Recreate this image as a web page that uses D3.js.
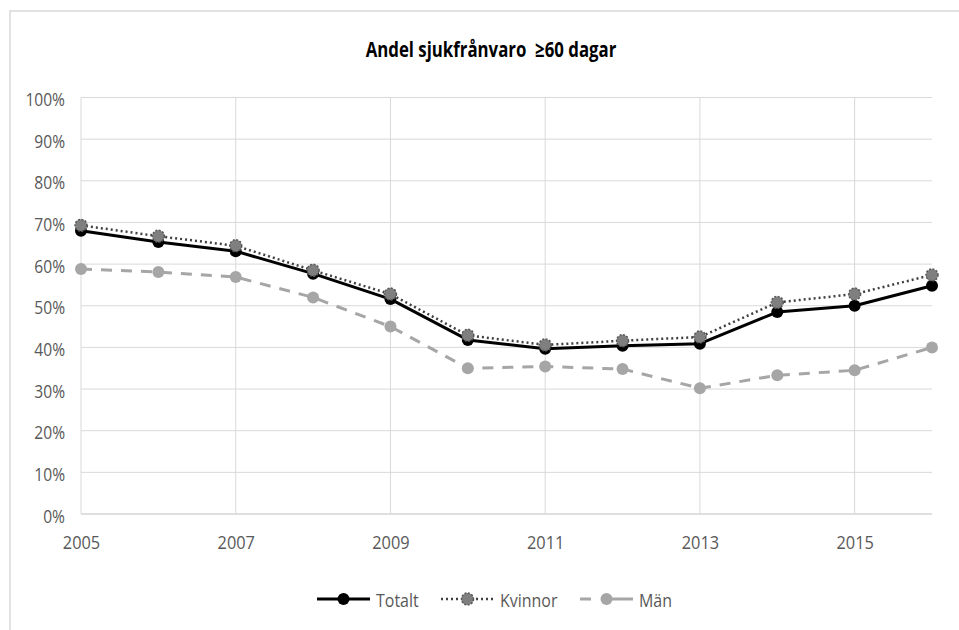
<!DOCTYPE html>
<html>
<head>
<meta charset="utf-8">
<script src="https://cdn.jsdelivr.net/npm/d3@7"></script>
<style>
  html, body { margin: 0; padding: 0; background: #fff; }
  svg { display: block; }
  text { font-family: "Open Sans", "Noto Sans", sans-serif; white-space: pre; }
</style>
</head>
<body>
<svg id="chart" width="959" height="630"></svg>
<script>
// Years on the x axis
const years = [2005, 2006, 2007, 2008, 2009, 2010, 2011, 2012, 2013, 2014, 2015, 2016];
// Share of sick leave lasting 60 days or more (fraction)
const totalt  = [0.680, 0.653, 0.631, 0.577, 0.516, 0.418, 0.397, 0.404, 0.409, 0.485, 0.500, 0.548];
const kvinnor = [0.693, 0.667, 0.644, 0.585, 0.528, 0.429, 0.406, 0.416, 0.425, 0.508, 0.528, 0.574];
const man     = [0.588, 0.581, 0.569, 0.520, 0.450, 0.350, 0.354, 0.348, 0.302, 0.333, 0.345, 0.400];
const xTicks  = [2005, 2007, 2009, 2011, 2013, 2015];
const yTicks  = [0, 0.1, 0.2, 0.3, 0.4, 0.5, 0.6, 0.7, 0.8, 0.9, 1.0];
const seriesNames = ["Totalt", "Kvinnor", "Män"];
const title = "Andel sjukfrånvaro  ≥60 dagar";

const svg = d3.select("#chart");

// narrow a text element horizontally, keeping its anchor
function condense(sel, factor) {
  sel.each(function () {
    const w = this.getComputedTextLength();
    d3.select(this)
      .attr("textLength", w * factor)
      .attr("lengthAdjust", "spacingAndGlyphs");
  });
}

// chart frame
svg.append("rect")
  .attr("x", 10).attr("y", 11)
  .attr("width", 980).attr("height", 660)
  .attr("fill", "none").attr("stroke", "#d9d9d9").attr("stroke-width", 1.5);

const x = d3.scaleLinear().domain([2005, 2016]).range([81, 932]);
const y = d3.scaleLinear().domain([0, 1]).range([514, 97.5]);

// horizontal gridlines
svg.append("g")
  .selectAll("line").data(yTicks).join("line")
  .attr("x1", x(2005)).attr("x2", x(2016))
  .attr("y1", d => y(d)).attr("y2", d => y(d))
  .attr("stroke", d => d === 0 ? "#bfbfbf" : "#d9d9d9").attr("stroke-width", 1);

// vertical gridlines
svg.append("g")
  .selectAll("line").data(xTicks).join("line")
  .attr("x1", d => x(d)).attr("x2", d => x(d))
  .attr("y1", y(1)).attr("y2", y(0))
  .attr("stroke", "#d9d9d9").attr("stroke-width", 1);

// y axis labels
const yAxis = d3.axisLeft(y).tickValues(yTicks).tickFormat(d3.format(".0%")).tickSize(0).tickPadding(16);
const gy = svg.append("g").attr("transform", `translate(${x(2005)},2)`).call(yAxis);
gy.select(".domain").remove();
gy.selectAll("text").attr("fill", "#595959").style("font-size", "19px").call(condense, 0.82);

// x axis labels
const xAxis = d3.axisBottom(x).tickValues(xTicks).tickFormat(d3.format("d")).tickSize(0).tickPadding(22);
const gx = svg.append("g").attr("transform", `translate(0,${y(0)})`).call(xAxis);
gx.select(".domain").remove();
gx.selectAll("text").attr("fill", "#595959").style("font-size", "19px").call(condense, 0.86);

// title
svg.append("text")
  .attr("x", 491).attr("y", 57)
  .attr("text-anchor", "middle")
  .attr("fill", "#000")
  .style("font-size", "21px").style("font-weight", "bold")
  .text(title)
  .call(condense, 0.8);

const line = d3.line().x((d, i) => x(years[i])).y(d => y(d));

const styles = [
  { data: totalt,  stroke: "#000000", width: 3,   dash: null,    marker: "#000000", r: 6 },
  { data: kvinnor, stroke: "#404040", width: 2.5, dash: "2,3",   marker: "#7f7f7f", r: 6 },
  { data: man,     stroke: "#a6a6a6", width: 3,   dash: "11,9",  marker: "#a6a6a6", r: 6 }
];

// Män underneath, then Totalt, with Kvinnor on top
const order = [2, 0, 1];
order.forEach(k => {
  const s = styles[k];
  svg.append("path")
    .datum(s.data)
    .attr("d", line)
    .attr("fill", "none")
    .attr("stroke", s.stroke)
    .attr("stroke-width", s.width)
    .attr("stroke-dasharray", s.dash)
    .attr("stroke-linejoin", "round");
  svg.append("g").selectAll("circle").data(s.data).join("circle")
    .attr("cx", (d, i) => x(years[i]))
    .attr("cy", d => y(d))
    .attr("r", s.r)
    .attr("fill", s.marker)
    .attr("stroke", k === 1 ? "#595959" : s.marker)
    .attr("stroke-width", k === 1 ? 1.5 : 0)
    .attr("stroke-dasharray", k === 1 ? "2,1.5" : null);
});

// legend
const legendX = [317, 441, 580];
const legY = 599;
seriesNames.forEach((name, k) => {
  const s = styles[k];
  const g = svg.append("g").attr("transform", `translate(${legendX[k]},${legY})`);
  g.append("line")
    .attr("x1", 0).attr("x2", 53).attr("y1", 0).attr("y2", 0)
    .attr("stroke", s.stroke).attr("stroke-width", s.width)
    .attr("stroke-dasharray", k === 2 ? "11,20" : s.dash);
  if (k === 2) {
    g.append("line").attr("x1", 42).attr("x2", 53).attr("y1", 0).attr("y2", 0)
      .attr("stroke", s.stroke).attr("stroke-width", s.width);
  }
  g.append("circle").attr("cx", 26.5).attr("cy", 0).attr("r", s.r)
    .attr("fill", s.marker)
    .attr("stroke", k === 1 ? "#595959" : s.marker)
    .attr("stroke-width", k === 1 ? 1.5 : 0)
    .attr("stroke-dasharray", k === 1 ? "2,1.5" : null);
  g.append("text")
    .attr("x", 59).attr("y", 1).attr("dy", "0.35em")
    .attr("fill", "#595959").style("font-size", "19px")
    .text(name)
    .call(condense, 0.84);
});
</script>
</body>
</html>
